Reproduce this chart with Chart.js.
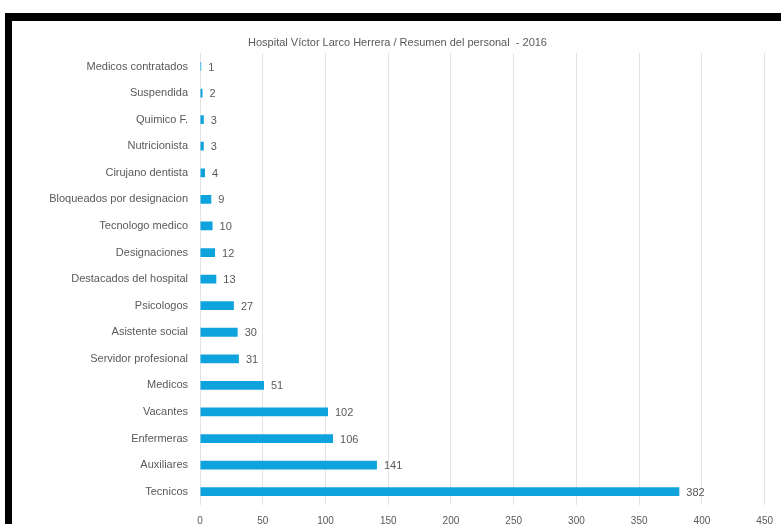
<!DOCTYPE html>
<html>
<head>
<meta charset="utf-8">
<script src="https://cdn.jsdelivr.net/npm/chart.js@4.4.1/dist/chart.umd.min.js"></script>
<style>
  html, body { margin: 0; padding: 0; background: #fff; }
  body { width: 781px; height: 524px; position: relative; overflow: hidden; }
  /* marco negro de la captura */
  #marco { position: absolute; left: 5px; top: 13px; width: 776px; height: 511px;
           border-left: 7px solid #000; border-top: 8px solid #000; box-sizing: border-box; }
  #caja { position: absolute; left: 12px; top: 21px; width: 771px; height: 503px; }
</style>
</head>
<body>
<div id="marco"></div>
<div id="caja"><canvas id="grafico-personal"></canvas></div>
<script>
// Datos del resumen del personal
const categorias = [
  'Medicos contratados', 'Suspendida', 'Quimico F.', 'Nutricionista', 'Cirujano dentista',
  'Bloqueados por designacion', 'Tecnologo medico', 'Designaciones', 'Destacados del hospital',
  'Psicologos', 'Asistente social', 'Servidor profesional', 'Medicos', 'Vacantes',
  'Enfermeras', 'Auxiliares', 'Tecnicos'
];
const cantidades = [1, 2, 3, 3, 4, 9, 10, 12, 13, 27, 30, 31, 51, 102, 106, 141, 382];
const ticksX = [0, 50, 100, 150, 200, 250, 300, 350, 400, 450];

const gris = '#595959';

// Plugin sencillo para escribir el valor al final de cada barra
const etiquetasValor = {
  id: 'etiquetasValor',
  afterDatasetsDraw(chart) {
    const ctx = chart.ctx;
    const meta = chart.getDatasetMeta(0);
    ctx.save();
    ctx.font = '11px "Liberation Sans", Arial, sans-serif';
    ctx.fillStyle = gris;
    ctx.textAlign = 'left';
    ctx.textBaseline = 'middle';
    meta.data.forEach((barra, i) => {
      ctx.fillText(String(cantidades[i]), barra.x + 7, barra.y + 1);
    });
    ctx.restore();
  }
};

new Chart(document.getElementById('grafico-personal').getContext('2d'), {
  type: 'bar',
  data: {
    labels: categorias,
    datasets: [{
      data: cantidades,
      backgroundColor: '#0FA3DE',
      borderWidth: 0,
      barPercentage: 0.33,
      categoryPercentage: 1
    }]
  },
  options: {
    indexAxis: 'y',
    responsive: true,
    maintainAspectRatio: false,
    animation: false,
    layout: { padding: 0 },
    plugins: {
      legend: { display: false },
      tooltip: { enabled: false },
      title: {
        display: true,
        text: 'Hospital Víctor Larco Herrera / Resumen del personal  - 2016',
        color: gris,
        font: { size: 11, family: '"Liberation Sans", Arial, sans-serif', weight: 'normal' },
        padding: { top: 15, bottom: 4 }
      }
    },
    scales: {
      x: {
        min: 0,
        max: 450,
        afterBuildTicks(scale) { scale.ticks = ticksX.map(v => ({ value: v })); },
        afterFit(scale) { scale.height = 19; },
        grid: { color: '#e3e3e3', drawTicks: false },
        border: { display: false },
        ticks: {
          color: gris,
          padding: 10,
          maxRotation: 0,
          font: { size: 10, family: '"Liberation Sans", Arial, sans-serif' }
        }
      },
      y: {
        afterFit(scale) { scale.width = 188; },
        grid: { display: false, drawTicks: false },
        border: { display: false },
        ticks: {
          color: gris,
          padding: 12,
          autoSkip: false,
          font: { size: 11, family: '"Liberation Sans", Arial, sans-serif' }
        }
      }
    }
  },
  plugins: [etiquetasValor]
});
</script>
</body>
</html>
